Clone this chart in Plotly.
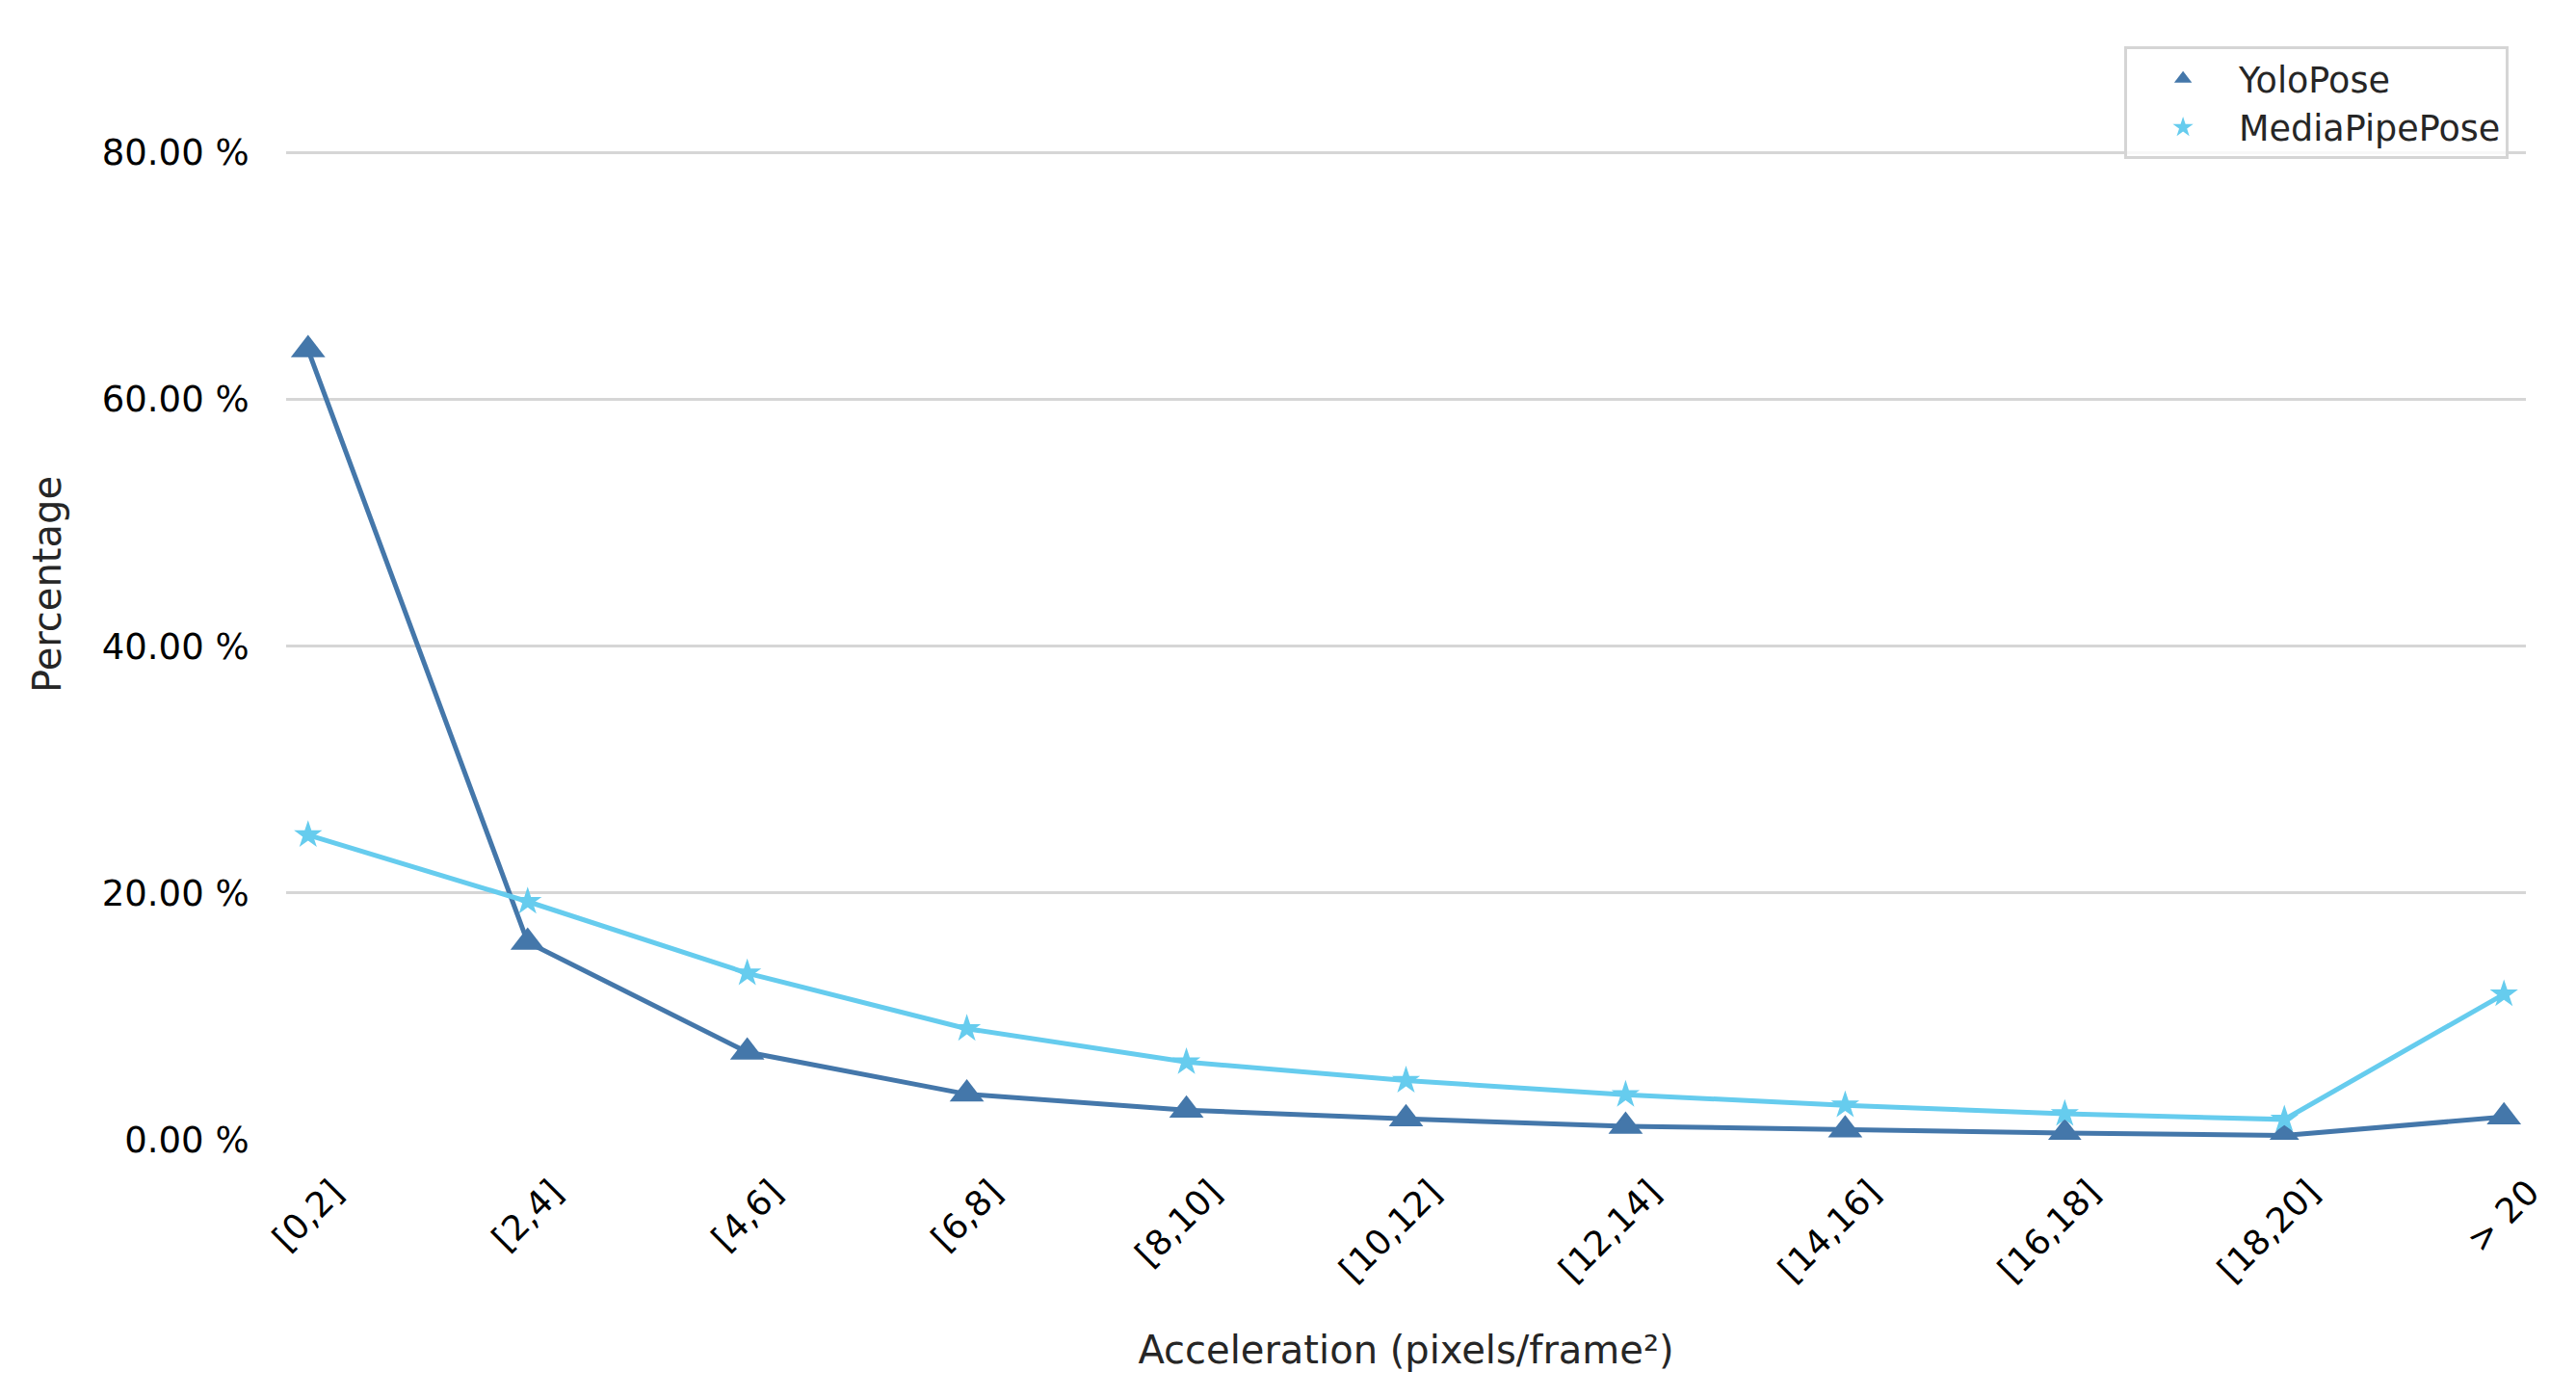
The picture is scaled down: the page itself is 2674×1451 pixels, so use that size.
import plotly.graph_objects as go

categories = ["[0,2]", "[2,4]", "[4,6]", "[6,8]", "[8,10]", "[10,12]",
              "[12,14]", "[14,16]", "[16,18]", "[18,20]", "> 20"]
yolopose = [64.0, 16.0, 7.1, 3.7, 2.4, 1.7, 1.1, 0.8, 0.55, 0.35, 1.85]
mediapipe = [24.7, 19.3, 13.5, 9.0, 6.3, 4.8, 3.65, 2.8, 2.1, 1.65, 11.8]
y_ticks = [0, 20, 40, 60, 80]
y_ticktext = [f"{v:.2f} %" for v in y_ticks]

C_YOLO = "#4477AA"
C_MP = "#66CCEE"
FONT = "DejaVu Sans"

fig = go.Figure()
fig.add_trace(go.Scatter(x=categories, y=yolopose, mode="lines",
                         line=dict(color=C_YOLO, width=5), showlegend=False,
                         hoverinfo="skip"))
fig.add_trace(go.Scatter(x=categories, y=mediapipe, mode="lines",
                         line=dict(color=C_MP, width=5), showlegend=False,
                         hoverinfo="skip"))
fig.add_trace(go.Scatter(x=categories, y=yolopose, mode="markers", name="YoloPose",
                         marker=dict(symbol="triangle-up", size=31, color=C_YOLO)))
fig.add_trace(go.Scatter(x=categories, y=mediapipe, mode="markers", name="MediaPipePose",
                         marker=dict(symbol="star", size=22, color=C_MP)))

fig.update_layout(
    width=2658, height=1435,
    paper_bgcolor="white", plot_bgcolor="white",
    margin=dict(l=289, r=44, t=22, b=260, autoexpand=False),
    font=dict(family=FONT, size=36, color="black"),
    legend=dict(x=0.9923, y=0.984, xanchor="right", yanchor="top",
                bgcolor="rgba(255,255,255,0.8)", bordercolor="#d5d5d5",
                borderwidth=3, font=dict(family=FONT, size=36.5, color="#262626"),
                itemwidth=106, tracegroupgap=0),
)
fig.update_xaxes(
    type="category", range=[-0.1, 10.1], showgrid=False, zeroline=False,
    showline=False, tickangle=-45, ticks="outside", ticklen=18,
    tickcolor="rgba(0,0,0,0)", ticklabelshift=26,
    tickfont=dict(family=FONT, size=36, color="black"),
    title=dict(text="Acceleration (pixels/frame²)", standoff=49,
               font=dict(family=FONT, size=40, color="#262626")),
)
fig.update_yaxes(
    range=[0, 90], tickmode="array", tickvals=y_ticks, ticktext=y_ticktext,
    showgrid=True, gridcolor="#d6d6d6", gridwidth=2.5, zeroline=False,
    showline=False, ticks="outside", ticklen=30, tickcolor="rgba(0,0,0,0)",
    tickfont=dict(family=FONT, size=37, color="black"),
    title=dict(text="Percentage", standoff=29,
               font=dict(family=FONT, size=40, color="#262626")),
)

fig.write_html("out.html")
